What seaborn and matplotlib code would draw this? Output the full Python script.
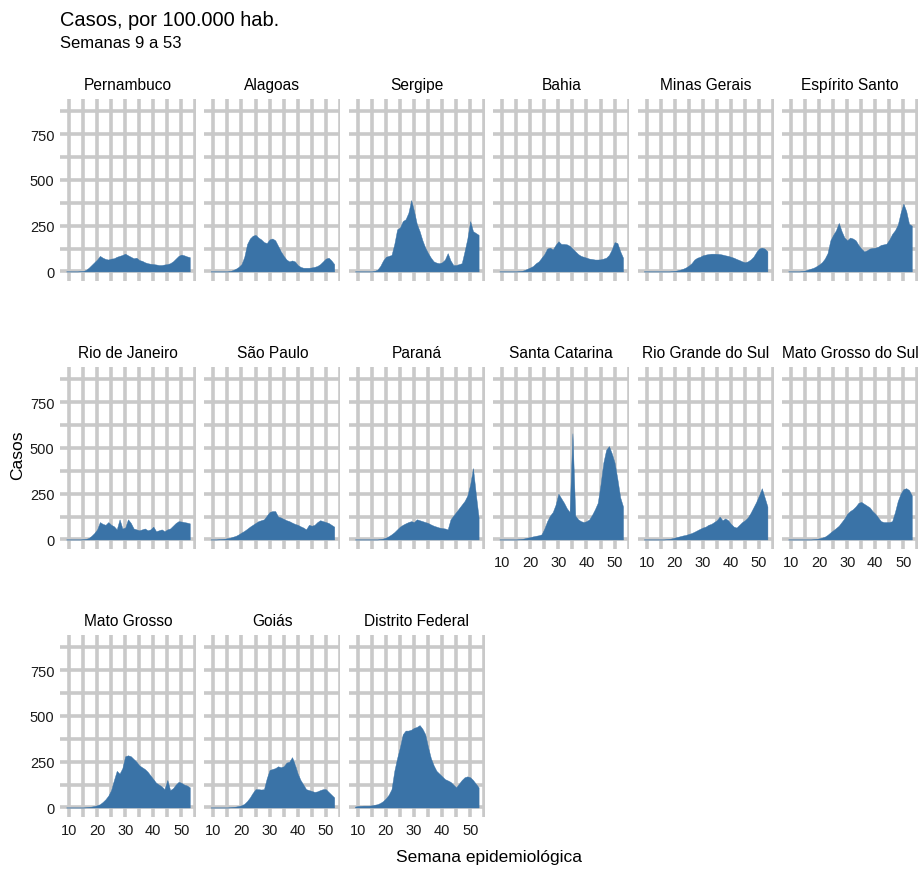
import numpy as np
import pandas as pd
import matplotlib
matplotlib.use("Agg")
import matplotlib.pyplot as plt
import seaborn as sns

semanas = list(range(9, 54))

estados = ["Pernambuco", "Alagoas", "Sergipe", "Bahia", "Minas Gerais", "Espírito Santo",
           "Rio de Janeiro", "São Paulo", "Paraná", "Santa Catarina", "Rio Grande do Sul",
           "Mato Grosso do Sul", "Mato Grosso", "Goiás", "Distrito Federal"]

pernambuco = [0, 0, 0, 0, 0, 1, 2, 8, 20, 35, 50, 65, 85, 75, 68, 65, 70, 72, 80, 85, 90, 97, 88, 80,
              72, 75, 62, 58, 50, 45, 42, 40, 38, 35, 35, 38, 40, 45, 55, 70, 85, 92, 88, 82, 78]
alagoas = [0, 0, 0, 0, 0, 0, 0, 2, 8, 15, 25, 40, 80, 150, 180, 195, 200, 185, 175, 160, 155, 175, 180,
           170, 140, 110, 85, 65, 55, 60, 55, 35, 25, 20, 20, 20, 22, 25, 30, 40, 55, 70, 75, 60, 40]
sergipe = [0, 0, 0, 0, 0, 0, 0, 3, 10, 30, 60, 80, 85, 90, 150, 230, 240, 275, 285, 320, 390, 330, 260,
           220, 170, 130, 100, 75, 55, 48, 45, 50, 65, 100, 60, 35, 35, 40, 45, 110, 180, 275, 220, 210, 200]
bahia = [0, 0, 0, 0, 0, 0, 0, 1, 3, 8, 15, 22, 30, 45, 55, 75, 95, 125, 130, 120, 145, 165, 150, 150,
         148, 140, 125, 110, 95, 85, 80, 75, 70, 68, 65, 65, 66, 70, 75, 90, 120, 160, 155, 110, 75]
minas_gerais = [0, 0, 0, 0, 0, 0, 0, 0, 0, 0, 1, 3, 6, 10, 15, 22, 32, 45, 65, 75, 80, 88, 92, 95,
                97, 97, 96, 95, 92, 88, 85, 80, 75, 68, 62, 55, 50, 55, 65, 80, 105, 125, 130, 125, 110]
espirito_santo = [0, 0, 0, 0, 0, 2, 5, 10, 15, 20, 28, 38, 50, 70, 100, 170, 200, 225, 265, 220, 185,
                  170, 185, 180, 170, 145, 125, 110, 115, 125, 128, 130, 135, 145, 148, 152, 175, 205,
                  225, 255, 320, 370, 330, 260, 250]
rio_de_janeiro = [0, 0, 0, 0, 0, 0, 1, 3, 8, 20, 35, 55, 95, 85, 80, 95, 80, 72, 55, 110, 60, 65, 110,
                  90, 60, 55, 50, 55, 60, 50, 55, 70, 45, 50, 55, 45, 55, 60, 75, 90, 100, 98, 95, 92, 88]
sao_paulo = [0, 0, 0, 1, 2, 4, 7, 10, 15, 20, 28, 38, 47, 58, 70, 80, 90, 100, 105, 110, 130, 150, 155,
             155, 125, 120, 112, 105, 100, 92, 85, 80, 72, 65, 55, 80, 75, 80, 95, 105, 100, 95, 90, 80, 70]
parana = [0, 0, 0, 0, 0, 0, 0, 0, 0, 2, 5, 10, 18, 28, 40, 55, 70, 80, 88, 95, 100, 95, 110, 105, 100,
          95, 90, 82, 75, 70, 65, 62, 60, 55, 110, 130, 150, 170, 190, 210, 240, 300, 390, 250, 120]
santa_catarina = [0, 0, 0, 0, 0, 0, 0, 1, 3, 6, 10, 13, 17, 20, 23, 28, 60, 100, 130, 150, 190, 250, 225,
                  200, 170, 150, 580, 130, 110, 100, 95, 100, 110, 135, 165, 200, 300, 420, 490, 510,
                  470, 420, 330, 230, 180]
rio_grande_do_sul = [0, 0, 0, 0, 0, 0, 0, 0, 1, 3, 6, 10, 14, 18, 22, 25, 30, 35, 42, 50, 58, 65, 70,
                     80, 85, 95, 105, 125, 105, 115, 105, 85, 70, 65, 80, 95, 105, 120, 145, 175, 205,
                     240, 280, 230, 180]
mato_grosso_do_sul = [0, 0, 0, 0, 0, 0, 0, 0, 0, 1, 3, 6, 10, 15, 25, 38, 50, 62, 75, 95, 115, 140, 155,
                      165, 180, 200, 205, 195, 185, 175, 155, 140, 120, 100, 95, 95, 95, 100, 150, 210,
                      250, 275, 280, 270, 240]
mato_grosso = [0, 0, 0, 0, 0, 0, 0, 1, 3, 5, 8, 12, 18, 30, 45, 65, 95, 150, 200, 185, 215, 280, 285,
               280, 265, 250, 230, 220, 210, 195, 175, 155, 135, 125, 115, 100, 150, 95, 105, 125, 140,
               135, 125, 120, 110]
goias = [0, 0, 0, 0, 0, 0, 0, 1, 3, 5, 8, 12, 20, 35, 55, 80, 100, 100, 98, 100, 160, 205, 210, 215, 225,
         220, 225, 245, 250, 275, 235, 185, 150, 125, 100, 95, 90, 85, 88, 95, 100, 100, 85, 70, 55]
distrito_federal = [5, 8, 9, 10, 10, 10, 12, 15, 18, 25, 35, 50, 70, 100, 200, 270, 330, 400, 420, 420,
                    425, 435, 440, 450, 430, 400, 330, 270, 230, 200, 185, 170, 155, 148, 140, 125, 110,
                    130, 150, 165, 170, 165, 150, 130, 110]

series = [pernambuco, alagoas, sergipe, bahia, minas_gerais, espirito_santo, rio_de_janeiro, sao_paulo,
          parana, santa_catarina, rio_grande_do_sul, mato_grosso_do_sul, mato_grosso, goias,
          distrito_federal]

x_ticks = [10, 20, 30, 40, 50]
y_ticks = [0, 250, 500, 750]

df = pd.DataFrame({
    "estado": np.repeat(estados, len(semanas)),
    "semana": semanas * len(estados),
    "casos": np.concatenate([np.array(s, dtype=float) for s in series]),
})
df["estado"] = pd.Categorical(df["estado"], categories=estados, ordered=True)

sns.set_theme(style="white")
plt.rcParams["font.family"] = ["Liberation Sans", "DejaVu Sans"]

W, H = 919, 870
g = sns.FacetGrid(df, col="estado", col_wrap=6, col_order=estados, sharex=True, sharey=True,
                  height=1.8, aspect=0.75, despine=False)
g.map(plt.fill_between, "semana", "casos", color="#3a73a7", linewidth=0.3, edgecolor="#3a73a7")
g.set_titles("{col_name}", size=11.2, color="black", pad=7)
g.set_axis_labels("", "")

fig = g.figure
fig.set_size_inches(W / 100, H / 100)
fig.set_dpi(100)
fig.subplots_adjust(left=60 / W, right=918 / W, top=1 - 100 / H, bottom=1 - 818 / H,
                    wspace=0.062, hspace=0.473)

n = len(estados)
ncol = 6
for i, ax in enumerate(g.axes.flat):
    ax.set_xlim(6.8, 55.2)
    ax.set_ylim(-52, 942)
    ax.set_xticks(x_ticks)
    ax.set_xticks([15, 25, 35, 45, 55], minor=True)
    ax.set_yticks(y_ticks)
    ax.set_yticks([125, 375, 625, 875], minor=True)
    ax.grid(True, which="both", color="#c9c9c9", linewidth=2.6)
    ax.set_axisbelow(True)
    for sp in ax.spines.values():
        sp.set_visible(False)
    ax.tick_params(which="both", length=0)
    col = i % ncol
    bottom = (i + ncol) >= n
    ax.tick_params(axis="x", labelbottom=bottom, pad=4)
    ax.tick_params(axis="y", labelleft=(col == 0), pad=4)
    for lab in ax.get_xticklabels() + ax.get_yticklabels():
        lab.set_fontsize(10.5)
        lab.set_color("#1a1a1a")
    ax.set_facecolor("white")

fig.text(60 / W, 1 - 21 / H, "Casos, por 100.000 hab.", fontsize=14.4, va="center", ha="left",
         color="black")
fig.text(60 / W, 1 - 44 / H, "Semanas 9 a 53", fontsize=12, va="center", ha="left", color="black")
fig.text(489 / W, 1 - 858 / H, "Semana epidemiológica", fontsize=12.5, va="center", ha="center",
         color="black")
fig.text(18 / W, 1 - 455 / H, "Casos", fontsize=12.5, va="center", ha="center", rotation=90,
         color="black")

fig.savefig("out.png", dpi=100, facecolor="white")
